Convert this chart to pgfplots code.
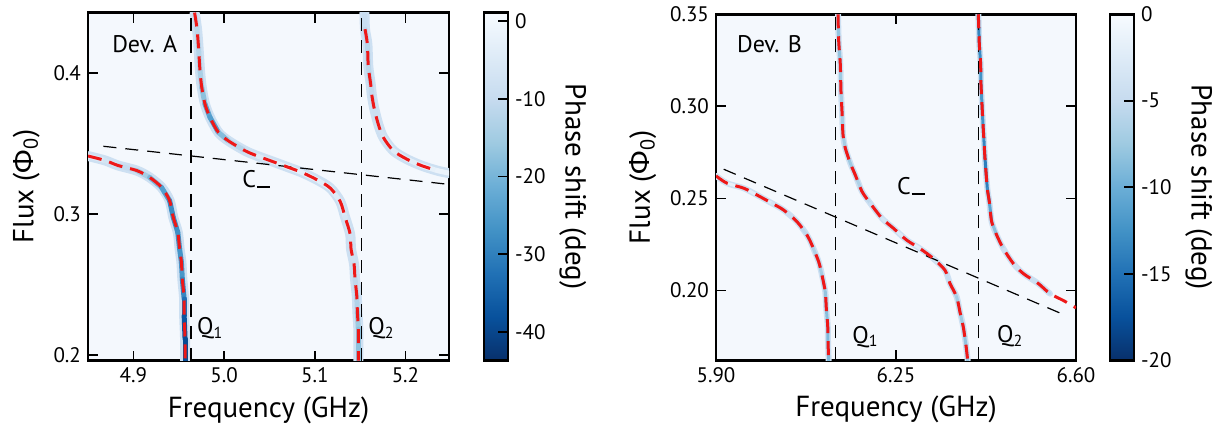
\documentclass[border=0pt]{standalone}
\usepackage{fontspec}
\setmainfont{PT Sans}
\newfontfamily\phifont{Fira Sans}
\usepackage{pgfplots}
\usepackage{pgfplotstable}
\pgfplotsset{compat=1.18}

\definecolor{bgpanel}{RGB}{244,248,253}
\definecolor{fitred}{RGB}{238,24,24}
\definecolor{halocol}{RGB}{205,224,242}

% branch traces: x (GHz), y (flux), c (phase shift, deg)
\pgfplotstableread{
x y c
4.850 0.3412 -4
4.869 0.3380 -6
4.883 0.3345 -8
4.904 0.3308 -12
4.918 0.3260 -17
4.931 0.3190 -22
4.940 0.3095 -27
4.944 0.2977 -29
4.949 0.2870 -26
4.951 0.2752 -28
4.953 0.2657 -25
4.954 0.2539 -27
4.956 0.2397 -31
4.956 0.2280 -35
4.957 0.2113 -40
4.957 0.1960 -38
}\trA
\pgfplotstableread{
x y c
4.9675 0.4430 -10
4.970 0.4324 -11
4.9716 0.4206 -12
4.9735 0.4017 -13
4.9754 0.3900 -15
4.979 0.3780 -20
4.9845 0.3686 -27
4.9937 0.3580 -22
5.0047 0.3520 -15
5.023 0.3450 -9
5.036 0.3414 -6
5.056 0.3367 -4
5.069 0.3336 -3
5.0855 0.3296 -3
5.102 0.3245 -3
5.117 0.3185 -4
5.128 0.3090 -5
5.1335 0.2977 -6
5.139 0.2858 -7
5.140 0.2752 -8
5.1433 0.2645 -8
5.1444 0.2539 -10
5.1463 0.2421 -12
5.147 0.2303 -14
5.148 0.2184 -17
5.148 0.1960 -18
}\trB
\pgfplotstableread{
x y c
5.1548 0.4430 -9
5.1554 0.4312 -10
5.158 0.4206 -12
5.159 0.4050 -12
5.1617 0.3920 -11
5.1628 0.3850 -10
5.1653 0.3757 -10
5.170 0.3638 -8
5.1756 0.3544 -7
5.1866 0.3450 -5
5.2014 0.3390 -4
5.218 0.3343 -3
5.2352 0.3308 -2
5.248 0.3290 -1
}\trC
\pgfplotstableread{
x y
5.1554 0.4312
5.158 0.4206
5.159 0.4050
5.1617 0.3920
5.1628 0.3850
5.1653 0.3757
5.170 0.3638
5.1756 0.3544
5.1866 0.3450
5.2014 0.3390
5.218 0.3343
5.2352 0.3308
}\redC
\pgfplotstableread{
x y c
5.900 0.2622 -1
5.9214 0.2582 -1
5.9539 0.2555 -2
5.9797 0.2518 -2
6.0089 0.2473 -3
6.0316 0.2436 -4
6.0575 0.2373 -5
6.0770 0.2300 -6
6.0867 0.2245 -6
6.0997 0.2155 -7
6.1061 0.2082 -7
6.1125 0.1991 -8
6.1145 0.1900 -8
6.1172 0.1809 -9
6.1178 0.1719 -9
6.1191 0.1618 -9
}\trD
\pgfplotstableread{
x y c
6.1372 0.3500 -8
6.1386 0.3354 -8
6.1417 0.3227 -8
6.1430 0.3082 -7
6.1450 0.2973 -7
6.1470 0.2845 -7
6.1514 0.2773 -7
6.1611 0.2691 -8
6.1708 0.2627 -7
6.1839 0.2537 -6
6.2000 0.2473 -5
6.2228 0.2391 -4
6.2455 0.2336 -3
6.2708 0.2273 -2
6.2967 0.2227 -2
6.3225 0.2173 -3
6.3453 0.2109 -4
6.3550 0.2037 -6
6.3680 0.1964 -7
6.3744 0.1882 -7
6.3809 0.1800 -8
6.3861 0.1700 -8
6.3894 0.1618 -8
}\trE
\pgfplotstableread{
x y c
6.4100 0.3500 -15
6.4110 0.3420 -14
6.4120 0.3336 -13
6.4146 0.3227 -13
6.4150 0.3136 -12
6.4172 0.3009 -12
6.4185 0.2936 -12
6.4211 0.2809 -13
6.4230 0.2718 -14
6.4275 0.2555 -14
6.4314 0.2482 -12
6.4360 0.2373 -10
6.4458 0.2300 -7
6.4587 0.2227 -5
6.4781 0.2146 -4
6.4976 0.2091 -4
6.5267 0.2037 -5
6.5494 0.1982 -6
}\trF
\pgfplotstableread{
x y
6.4100 0.3500
6.4110 0.3420
6.4120 0.3336
6.4146 0.3227
6.4150 0.3136
6.4172 0.3009
6.4185 0.2936
6.4211 0.2809
6.4230 0.2718
6.4275 0.2555
6.4314 0.2482
6.4360 0.2373
6.4458 0.2300
6.4587 0.2227
6.4781 0.2146
6.4976 0.2091
6.5267 0.2037
6.5494 0.1982
6.5753 0.1945
6.6000 0.1905
}\redF

\tikzset{lab/.style={font=\fontsize{12}{14}\selectfont}}

\pgfplotsset{
  colormap={bluesr}{rgb255=(8,48,107) rgb255=(8,81,156) rgb255=(33,113,181)
    rgb255=(66,146,198) rgb255=(107,174,214) rgb255=(158,202,225)
    rgb255=(198,219,239) rgb255=(222,235,247) rgb255=(247,251,255)},
  panel/.style={
    scale only axis,
    axis line style={line width=1.3pt},
    tick style={black, line width=0.8pt},
    major tick length=5pt,
    tick align=inside,
    xtick pos=both, ytick pos=both,
    tick label style={font=\fontsize{10.5}{12}\selectfont},
    label style={font=\fontsize{14.5}{17}\selectfont},
    axis background/.style={fill=bgpanel},
    colormap name=bluesr,
    colorbar,
    colorbar style={
      scale only axis,
      at={(parent axis.north east)}, anchor=north west,
      axis line style={line width=1.3pt},
      tick style={black, line width=0.8pt},
      major tick length=5pt,
      tick align=inside,
      ytick pos=right,
      yticklabel pos=right,
      yticklabel style={font=\fontsize{10.5}{12}\selectfont},
      ylabel={Phase shift (deg)},
      ylabel near ticks,
      ylabel style={rotate=180, font=\fontsize{14.5}{17}\selectfont},
    },
    xlabel={Frequency (GHz)},
    ylabel={Flux ({\phifont Φ}\textsubscript{0})},
  },
  glow/.style={halocol, line width=#1, line cap=round, line join=round, smooth, forget plot},
  trace/.style={mesh, point meta=explicit, line width=#1, line cap=round, line join=round, forget plot},
  fit/.style={fitred, line width=1.5pt, dash pattern=on 7pt off 4pt, smooth, forget plot},
  guide/.style={black, line width=0.6pt, dash pattern=on 6.5pt off 4.5pt, forget plot},
}

\begin{document}
\begin{tikzpicture}
\path (0,0) rectangle (610pt,217.5pt);

% Device A
\begin{axis}[panel,
  at={(44pt,38.5pt)}, anchor=south west,
  width=180.5pt, height=174pt,
  xmin=4.85, xmax=5.248, ymin=0.196, ymax=0.443,
  xtick={4.9,5.0,5.1,5.2}, xticklabels={4.9,5.0,5.1,5.2},
  ytick={0.2,0.3,0.4}, yticklabels={0.2,0.3,0.4},
  point meta min=-43.7, point meta max=1.1,
  colorbar style={width=12pt, xshift=9pt,
    ytick={-40,-30,-20,-10,0}, yticklabels={-40,-30,-20,-10,0}},
]
\addplot[glow=5pt] table[x=x,y=y] {\trA};
\addplot[glow=5pt] table[x=x,y=y] {\trB};
\addplot[glow=5pt] table[x=x,y=y] {\trC};
\addplot[trace=2.5pt] table[x=x,y=y,meta=c] {\trA};
\addplot[trace=2.5pt] table[x=x,y=y,meta=c] {\trB};
\addplot[trace=2.5pt] table[x=x,y=y,meta=c] {\trC};
\addplot[guide] coordinates {(4.9636,0.196) (4.9636,0.443)};
\addplot[guide] coordinates {(5.1518,0.196) (5.1518,0.443)};
\addplot[guide] coordinates {(4.867,0.3481) (5.243,0.3214)};
\addplot[fit] table[x=x,y=y] {\trA};
\addplot[fit] table[x=x,y=y] {\trB};
\addplot[fit] table[x=x,y=y] {\redC};
\node[lab, anchor=base west] at (axis cs:4.869,0.4147) {Dev. A};
\node[lab, anchor=west, inner sep=0pt] at (axis cs:5.0198,0.3246) {C\kern0.04em\rule[-0.02em]{0.55em}{0.07em}};
\node[lab, anchor=west, inner sep=0pt] at (axis cs:4.970,0.219) {Q\textsubscript{1}};
\node[lab, anchor=west, inner sep=0pt] at (axis cs:5.1587,0.219) {Q\textsubscript{2}};
\end{axis}

% Device B
\begin{axis}[panel,
  at={(358pt,38.65pt)}, anchor=south west,
  width=180pt, height=173pt,
  xmin=5.90, xmax=6.60, ymin=0.162, ymax=0.35,
  xtick={5.90,6.25,6.60}, xticklabels={5.90,6.25,6.60},
  ytick={0.20,0.25,0.30,0.35}, yticklabels={0.20,0.25,0.30,0.35},
  point meta min=-20, point meta max=0,
  colorbar style={width=12pt, xshift=8.5pt,
    ytick={-20,-15,-10,-5,0}, yticklabels={-20,-15,-10,-5,0}},
]
\addplot[glow=3pt] table[x=x,y=y] {\trD};
\addplot[glow=3pt] table[x=x,y=y] {\trE};
\addplot[glow=3pt] table[x=x,y=y] {\trF};
\addplot[trace=1.5pt] table[x=x,y=y,meta=c] {\trD};
\addplot[trace=1.5pt] table[x=x,y=y,meta=c] {\trE};
\addplot[trace=1.5pt] table[x=x,y=y,meta=c] {\trF};
\addplot[guide] coordinates {(6.132,0.162) (6.132,0.35)};
\addplot[guide] coordinates {(6.410,0.162) (6.410,0.35)};
\addplot[guide] coordinates {(5.915,0.2658) (6.572,0.1873)};
\addplot[fit] table[x=x,y=y] {\trD};
\addplot[fit] table[x=x,y=y] {\trE};
\addplot[fit] table[x=x,y=y] {\redF};
\node[lab, anchor=base west] at (axis cs:5.9272,0.329) {Dev. B};
\node[lab, anchor=west, inner sep=0pt] at (axis cs:6.2513,0.2565) {C\kern0.04em\rule[-0.02em]{0.55em}{0.07em}};
\node[lab, anchor=west, inner sep=0pt] at (axis cs:6.1644,0.1748) {Q\textsubscript{1}};
\node[lab, anchor=west, inner sep=0pt] at (axis cs:6.4458,0.175) {Q\textsubscript{2}};
\end{axis}
\end{tikzpicture}
\end{document}
